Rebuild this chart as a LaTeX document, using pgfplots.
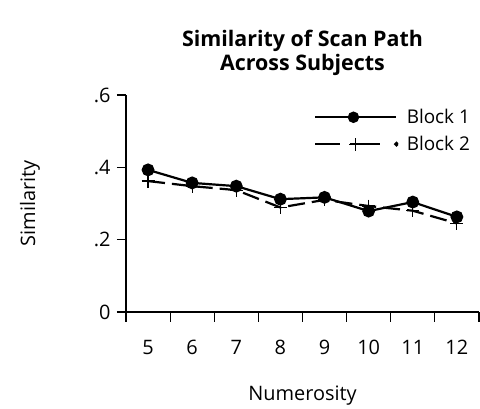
\documentclass[border=0pt]{standalone}
\usepackage{fontspec}
\setmainfont{Open Sans}
\usepackage{pgfplots}
\pgfplotsset{compat=1.18}

\begin{document}
\begin{tikzpicture}[x=1bp,y=1bp]
\begin{axis}[
  scale only axis,
  width=353bp, height=217bp,
  xmin=4.5, xmax=12.5,
  ymin=0, ymax=0.6,
  axis x line*=bottom, axis y line*=left,
  axis line style={line width=1.2bp},
  every tick/.style={black, line width=1.2bp},
  xtick={5,...,12},
  major x tick style={draw=none},
  minor xtick={4.5,5.5,...,12.5},
  minor tick length=10bp,
  ytick={0,0.2,0.4,0.6},
  yticklabels={0,.2,.4,.6},
  major tick length=9bp,
  tick align=outside,
  /pgf/number format/assume math mode=true,
  ticklabel style={font=\fontsize{20}{24}\selectfont},
  xticklabel style={yshift=-16bp},
  yticklabel style={xshift=-3bp},
  xlabel={Numerosity},
  ylabel={Similarity},
  label style={font=\fontsize{20}{24}\selectfont},
  xlabel style={at={(axis description cs:0.5,-0.385)}, anchor=center},
  ylabel style={at={(axis description cs:-0.272,0.5)}, anchor=center},
  title={Similarity of Scan Path\\Across Subjects},
  title style={font=\fontsize{21.5}{24}\selectfont\bfseries, align=center,
    at={(axis description cs:0.5,1.047)}, anchor=south},
  clip=false,
  legend cell align=left,
  legend style={draw=none, fill=none, at={(axis cs:8.70,0.572)}, anchor=north west,
    font=\fontsize{19}{22}\selectfont, row sep=7bp,
    /tikz/every odd column/.append style={column sep=6bp}},
]
\addplot[black, line width=2.2bp, mark=*, mark size=5.3bp,
  legend image code/.code={
    \draw[black, solid, line width=2bp] (0bp,0bp) -- (81bp,0bp);
    \fill[black] (38bp,0bp) circle (4.6bp);
  }]
  coordinates {(5,0.393)(6,0.357)(7,0.348)(8,0.312)(9,0.317)(10,0.279)(11,0.304)(12,0.263)};
\addlegendentry{Block 1}
\addplot[black, line width=2.2bp, dash pattern=on 17bp off 7bp,
  mark=+, mark size=6.5bp, mark options={solid, line width=1.2bp},
  legend image code/.code={
    \draw[black, solid, line width=2bp] (0bp,0bp) -- (25bp,0bp);
    \draw[black, solid, line width=2bp] (35bp,0bp) -- (65bp,0bp);
    \draw[black, solid, line width=1.2bp] (34bp,0bp) -- (46bp,0bp) (40bp,-6.5bp) -- (40bp,6.5bp);
    \fill[black] (81bp,0bp) circle (1.2bp);
  }]
  coordinates {(5,0.362)(6,0.348)(7,0.337)(8,0.289)(9,0.310)(10,0.293)(11,0.280)(12,0.245)};
\addlegendentry{Block 2}
\path (rel axis cs:-0.357,-0.433) rectangle (rel axis cs:1.003,1.438);
\end{axis}
\end{tikzpicture}
\end{document}
